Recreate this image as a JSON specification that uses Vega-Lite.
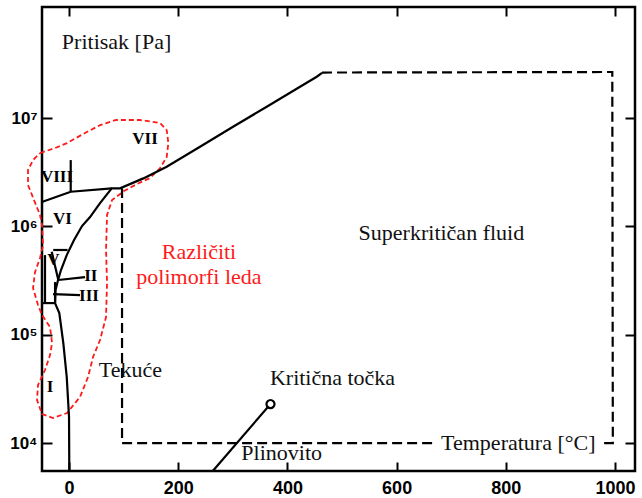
{
  "$schema": "https://vega.github.io/schema/vega-lite/v6.json",
  "autosize": "none",
  "width": 593,
  "height": 464,
  "padding": {"left": 42, "top": 7, "right": 7, "bottom": 27},
  "background": "white",
  "config": {"view": {"stroke": "black", "strokeWidth": 2.5}},
  "datasets": {
    "solid": [
      {"seg": "A", "i": 1, "T": 0.5, "lgP": 3.745},
      {"seg": "A", "i": 2, "T": 0, "lgP": 4.24},
      {"seg": "A", "i": 3, "T": -4.2, "lgP": 4.61},
      {"seg": "A", "i": 4, "T": -10.4, "lgP": 4.92},
      {"seg": "A", "i": 5, "T": -17.8, "lgP": 5.2},
      {"seg": "A", "i": 6, "T": -25.6, "lgP": 5.292},
      {"seg": "A", "i": 7, "T": -24.7, "lgP": 5.412},
      {"seg": "A", "i": 8, "T": -20.1, "lgP": 5.505},
      {"seg": "A", "i": 9, "T": -14.7, "lgP": 5.597},
      {"seg": "A", "i": 10, "T": -4.2, "lgP": 5.735},
      {"seg": "A", "i": 11, "T": 9.2, "lgP": 5.874},
      {"seg": "A", "i": 12, "T": 23.8, "lgP": 6.003},
      {"seg": "A", "i": 13, "T": 38.5, "lgP": 6.086},
      {"seg": "A", "i": 14, "T": 56.8, "lgP": 6.215},
      {"seg": "A", "i": 15, "T": 78.2, "lgP": 6.351},
      {"seg": "A", "i": 16, "T": 93.4, "lgP": 6.351},
      {"seg": "A", "i": 17, "T": 136.1, "lgP": 6.443},
      {"seg": "A", "i": 18, "T": 178.9, "lgP": 6.551},
      {"seg": "A", "i": 19, "T": 239.9, "lgP": 6.735},
      {"seg": "A", "i": 20, "T": 300.4, "lgP": 6.92},
      {"seg": "A", "i": 21, "T": 362.1, "lgP": 7.104},
      {"seg": "A", "i": 22, "T": 423.1, "lgP": 7.289},
      {"seg": "A", "i": 23, "T": 453.7, "lgP": 7.381},
      {"seg": "A", "i": 24, "T": 463.4, "lgP": 7.416},
      {"seg": "C", "i": 1, "T": -48.5, "lgP": 6.227},
      {"seg": "C", "i": 2, "T": 3.1, "lgP": 6.32},
      {"seg": "C", "i": 3, "T": 78.2, "lgP": 6.351},
      {"seg": "D", "i": 1, "T": 3.1, "lgP": 6.612},
      {"seg": "D", "i": 2, "T": 3.1, "lgP": 6.32},
      {"seg": "F", "i": 1, "T": -28.9, "lgP": 5.782},
      {"seg": "F", "i": 2, "T": -2.7, "lgP": 5.782},
      {"seg": "G", "i": 1, "T": -31.7, "lgP": 5.766},
      {"seg": "G", "i": 2, "T": -19.6, "lgP": 5.505},
      {"seg": "H", "i": 1, "T": -19.6, "lgP": 5.505},
      {"seg": "H", "i": 2, "T": 29.3, "lgP": 5.532},
      {"seg": "I", "i": 1, "T": -29.3, "lgP": 5.375},
      {"seg": "I", "i": 2, "T": 20.1, "lgP": 5.366},
      {"seg": "J", "i": 1, "T": -47.6, "lgP": 5.292},
      {"seg": "J", "i": 2, "T": -25.6, "lgP": 5.292},
      {"seg": "K", "i": 1, "T": -25.6, "lgP": 5.486},
      {"seg": "K", "i": 2, "T": -25.6, "lgP": 5.292},
      {"seg": "M", "i": 1, "T": -44, "lgP": 5.735},
      {"seg": "M", "i": 2, "T": -44, "lgP": 5.292},
      {"seg": "L", "i": 1, "T": 263.7, "lgP": 3.745},
      {"seg": "L", "i": 2, "T": 369, "lgP": 4.36}
    ],
    "dashed": [
      {"seg": "S1", "i": 1, "T": 463.4, "lgP": 7.42},
      {"seg": "S1", "i": 2, "T": 995, "lgP": 7.425},
      {"seg": "S1", "i": 3, "T": 996, "lgP": 4.0},
      {"seg": "S1", "i": 4, "T": 978, "lgP": 4.0},
      {"seg": "S2", "i": 1, "T": 665, "lgP": 4.0},
      {"seg": "S2", "i": 2, "T": 97.1, "lgP": 4.0},
      {"seg": "S2", "i": 3, "T": 97.1, "lgP": 6.351}
    ],
    "red": [
      {"i": 1, "T": -53.1, "lgP": 6.677},
      {"i": 2, "T": -25.6, "lgP": 6.723},
      {"i": 3, "T": -3.7, "lgP": 6.769},
      {"i": 4, "T": 29.3, "lgP": 6.862},
      {"i": 5, "T": 56.8, "lgP": 6.935},
      {"i": 6, "T": 86.1, "lgP": 6.982},
      {"i": 7, "T": 130.0, "lgP": 6.982},
      {"i": 8, "T": 166.7, "lgP": 6.954},
      {"i": 9, "T": 178.9, "lgP": 6.889},
      {"i": 10, "T": 181.9, "lgP": 6.769},
      {"i": 11, "T": 178.9, "lgP": 6.64},
      {"i": 12, "T": 166.7, "lgP": 6.538},
      {"i": 13, "T": 148.4, "lgP": 6.446},
      {"i": 14, "T": 124.5, "lgP": 6.391},
      {"i": 15, "T": 100.7, "lgP": 6.326},
      {"i": 16, "T": 78.8, "lgP": 6.243},
      {"i": 17, "T": 69.6, "lgP": 6.105},
      {"i": 18, "T": 67.8, "lgP": 5.782},
      {"i": 19, "T": 69.6, "lgP": 5.477},
      {"i": 20, "T": 67.8, "lgP": 5.163},
      {"i": 21, "T": 56.8, "lgP": 4.951},
      {"i": 22, "T": 44.0, "lgP": 4.794},
      {"i": 23, "T": 34.8, "lgP": 4.609},
      {"i": 24, "T": 20.1, "lgP": 4.425},
      {"i": 25, "T": -3.7, "lgP": 4.277},
      {"i": 26, "T": -29.3, "lgP": 4.231},
      {"i": 27, "T": -49.5, "lgP": 4.268},
      {"i": 28, "T": -58.6, "lgP": 4.397},
      {"i": 29, "T": -56.8, "lgP": 4.535},
      {"i": 30, "T": -44.0, "lgP": 4.674},
      {"i": 31, "T": -34.8, "lgP": 4.812},
      {"i": 32, "T": -31.1, "lgP": 4.923},
      {"i": 33, "T": -34.8, "lgP": 5.071},
      {"i": 34, "T": -49.5, "lgP": 5.182},
      {"i": 35, "T": -56.8, "lgP": 5.274},
      {"i": 36, "T": -65.9, "lgP": 5.431},
      {"i": 37, "T": -62.3, "lgP": 5.578},
      {"i": 38, "T": -53.1, "lgP": 5.708},
      {"i": 39, "T": -47.6, "lgP": 5.828},
      {"i": 40, "T": -49.5, "lgP": 6.012},
      {"i": 41, "T": -53.1, "lgP": 6.105},
      {"i": 42, "T": -64.1, "lgP": 6.243},
      {"i": 43, "T": -75.1, "lgP": 6.382},
      {"i": 44, "T": -75.1, "lgP": 6.52},
      {"i": 45, "T": -65.9, "lgP": 6.612},
      {"i": 46, "T": -53.1, "lgP": 6.677}
    ],
    "crit": [{"T": 369, "lgP": 4.36}],
    "labels": [
      {"txt": "Pritisak [Pa]", "T": 87, "lgP": 7.637},
      {"txt": "Superkritičan fluid", "T": 682, "lgP": 5.874},
      {"txt": "Tekuće", "T": 112.3, "lgP": 4.612},
      {"txt": "Kritična točka", "T": 482.6, "lgP": 4.535},
      {"txt": "Plinovito", "T": 389.5, "lgP": 3.843},
      {"txt": "Temperatura [°C]", "T": 822.9, "lgP": 3.935}
    ],
    "redlabels": [
      {"txt": "Različiti", "T": 238, "lgP": 5.699},
      {"txt": "polimorfi leda", "T": 238, "lgP": 5.472}
    ],
    "numerals": [
      {"txt": "VII", "T": 139.2, "lgP": 6.806},
      {"txt": "VIII", "T": -22, "lgP": 6.455},
      {"txt": "VI", "T": -11.9, "lgP": 6.068},
      {"txt": "V", "T": -28.8, "lgP": 5.689},
      {"txt": "II", "T": 40, "lgP": 5.542},
      {"txt": "III", "T": 36.6, "lgP": 5.357},
      {"txt": "I", "T": -34.8, "lgP": 4.517}
    ]
  },
  "layer": [
    {
      "data": {"name": "red"},
      "mark": {"type": "line", "color": "#ff1a1a", "strokeWidth": 1.8, "strokeDash": [5, 3], "clip": false},
      "encoding": {
        "x": {"field": "T", "type": "quantitative", "scale": {"domain": [-49.5, 1036.6], "nice": false, "zero": false},
          "axis": {"orient": "bottom", "values": [0, 200, 400, 600, 800, 1000], "format": "d", "title": null, "grid": false, "domain": false,
            "tickSize": -9, "tickWidth": 2, "tickColor": "black", "labelPadding": 17, "labelFont": "Liberation Sans", "labelFontWeight": "bold", "labelFontSize": 18, "labelColor": "black"}},
        "y": {"field": "lgP", "type": "quantitative", "scale": {"domain": [3.742, 8.025], "nice": false, "zero": false},
          "axis": {"orient": "left", "values": [4, 5, 6, 7], "title": null, "grid": false, "domain": false,
            "tickSize": -10, "tickWidth": 2, "tickColor": "black", "labelPadding": 15, "labelFont": "Liberation Sans", "labelFontWeight": "bold", "labelFontSize": 17, "labelColor": "black",
            "labelExpr": "datum.value == 4 ? '10⁴' : datum.value == 5 ? '10⁵' : datum.value == 6 ? '10⁶' : '10⁷'"}},
        "order": {"field": "i", "type": "quantitative"}
      }
    },
    {
      "data": {"name": "solid"},
      "mark": {"type": "line", "color": "black", "strokeWidth": 2.2},
      "encoding": {
        "x": {"field": "T", "type": "quantitative",
          "axis": {"orient": "top", "values": [0, 200, 400, 600, 800, 1000], "title": null, "grid": false, "domain": false, "labels": false,
            "tickSize": -9, "tickWidth": 2, "tickColor": "black"}},
        "y": {"field": "lgP", "type": "quantitative",
          "axis": {"orient": "right", "values": [4, 5, 6, 7], "title": null, "grid": false, "domain": false, "labels": false,
            "tickSize": -10, "tickWidth": 2, "tickColor": "black"}},
        "detail": {"field": "seg", "type": "nominal"},
        "order": {"field": "i", "type": "quantitative"}
      }
    },
    {
      "data": {"name": "dashed"},
      "mark": {"type": "line", "color": "black", "strokeWidth": 2.2, "strokeDash": [10, 5]},
      "encoding": {
        "x": {"field": "T", "type": "quantitative", "axis": null},
        "y": {"field": "lgP", "type": "quantitative", "axis": null},
        "detail": {"field": "seg", "type": "nominal"},
        "order": {"field": "i", "type": "quantitative"}
      }
    },
    {
      "data": {"name": "crit"},
      "mark": {"type": "circle", "fill": "white", "stroke": "black", "strokeWidth": 2.2, "size": 65, "opacity": 1},
      "encoding": {
        "x": {"field": "T", "type": "quantitative", "axis": null},
        "y": {"field": "lgP", "type": "quantitative", "axis": null}
      }
    },
    {
      "data": {"name": "labels"},
      "mark": {"type": "text", "font": "Liberation Serif", "fontSize": 22, "color": "#111", "align": "center", "baseline": "alphabetic"},
      "encoding": {
        "x": {"field": "T", "type": "quantitative", "axis": null},
        "y": {"field": "lgP", "type": "quantitative", "axis": null},
        "text": {"field": "txt"}
      }
    },
    {
      "data": {"name": "redlabels"},
      "mark": {"type": "text", "font": "Liberation Serif", "fontSize": 22, "color": "#ff1a1a", "align": "center", "baseline": "alphabetic"},
      "encoding": {
        "x": {"field": "T", "type": "quantitative", "axis": null},
        "y": {"field": "lgP", "type": "quantitative", "axis": null},
        "text": {"field": "txt"}
      }
    },
    {
      "data": {"name": "numerals"},
      "mark": {"type": "text", "font": "Liberation Serif", "fontWeight": "bold", "fontSize": 17, "color": "black", "align": "center", "baseline": "middle"},
      "encoding": {
        "x": {"field": "T", "type": "quantitative", "axis": null},
        "y": {"field": "lgP", "type": "quantitative", "axis": null},
        "text": {"field": "txt"}
      }
    }
  ],
  "resolve": {"axis": {"x": "independent", "y": "independent"}}
}
